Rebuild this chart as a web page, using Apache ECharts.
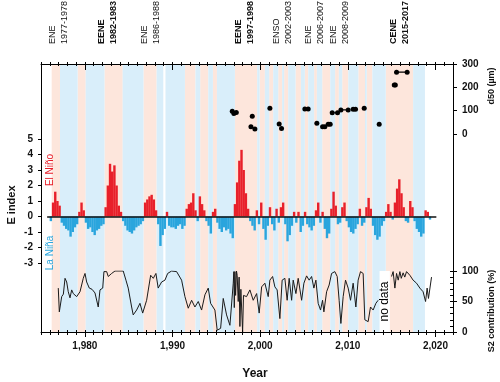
<!DOCTYPE html>
<html>
<head>
<meta charset="utf-8">
<script src="https://cdn.jsdelivr.net/npm/echarts@6/dist/echarts.min.js"></script>
<style>
  html, body { margin: 0; padding: 0; background: #fff; }
  #main { width: 500px; height: 382px; }
</style>
</head>
<body>
<div id="main"></div>
<script>
// El Niño (pink) and La Niña (blue) periods, decimal years
var ninoBands = [[1976.22,1977.17],[1979.18,1980.10],[1982.24,1984.32],[1986.69,1988.19],[1991.42,1992.62],
  [1993.16,1994.08],[1994.61,1995.07],[1997.12,1999.66],[1999.94,2000.54],[2001.03,2001.49],[2002.06,2002.51],
  [2002.74,2003.2],[2004.04,2004.65],[2005.1,2005.48],[2006.16,2006.47],[2007.08,2008.0],[2008.55,2008.98],
  [2009.36,2010.05],[2011.2,2011.96],[2012.16,2012.8],[2014.33,2017.45]];
var ninaBands = [[1977.17,1979.18],[1980.10,1982.24],[1984.32,1986.69],[1988.19,1988.95],[1989.2,1991.42],
  [1992.62,1993.16],[1994.08,1994.61],[1995.07,1997.12],[1999.66,1999.94],[2000.54,2001.03],[2001.49,2002.06],
  [2002.51,2002.74],[2003.2,2004.04],[2004.65,2005.1],[2005.48,2006.16],[2006.47,2007.08],[2008.0,2008.55],
  [2008.98,2009.36],[2010.05,2011.2],[2011.96,2012.16],[2012.8,2014.33],[2017.45,2018.8]];

// E index, quarterly from 1976
var eStart = 1976;
var eIndex = [
  -0.3, 0.9, 1.6, 1.0,    0.7, -0.4, -0.6, -0.8,   -0.9, -1.3, -1.0, -0.7,   -0.5, 0.3, 0.9, 0.4,
  -0.4, -0.8, -0.7, -1.0, -1.2, -0.9, -0.8, -0.6,   -0.5, 0.6, 2.0, 3.4,     2.9, 3.3, 2.0, 0.7,
  0.3, -0.3, -0.6, -0.9,  -1.0, -1.1, -0.9, -0.7,   -0.6, -0.5, -0.3, 0.9,    1.1, 1.3, 1.4, 1.1,
  0.4, -0.5, -1.9, -1.2,  -0.8, 0.3, -0.6, -0.7,    -0.7, -0.8, -0.6, -0.5,   -0.8, -0.6, 0.5, 0.8,
  0.9, 1.5, 0.4, -0.3,    1.3, 0.8, 0.4, -0.3,      -0.6, -1.1, 0.3, 0.5,     -0.4, -0.8, -1.0, -0.7,
  -0.9, -0.8, -1.1, -1.4, 0.8, 2.2, 3.6, 4.3,       3.0, 1.5, 0.5, -0.3,      -0.6, -0.9, 0.4, -0.5,
  0.9, -0.8, -1.5, -0.6,  0.6, -0.5, -0.9, 0.5,     -0.4, 0.6, 0.9, -0.5,     -1.6, -1.2, -0.6, 0.3,
  -0.4, 0.3, -1.0, -0.6,  0.3, -0.5, -0.7, -0.9,    -0.6, 0.4, 0.9, -0.4,     0.3, -0.8, -1.4, -1.1,
  0.5, 1.6, 0.7, -0.5,    -0.4, 0.6, 0.9, -0.3,     -0.7, -1.0, -1.1, -0.8,   -0.5, 0.5, -0.6, -0.4,
  0.6, 1.2, 0.5, -0.6,    -1.2, -1.5, -1.3, -0.6,   -0.3, 0.3, 0.8, 0.3,      -0.2, 0.9, 1.8, 2.4,
  1.5, 0.6, -0.3, -0.4,   1.0, 0.6, -0.3, -0.8,     -1.0, -1.3, -1.1, 0.4,    0.3, -0.2
];

// S2 contribution (%)
var s2Years = [1976.97,1977.09,1977.36,1977.55,1977.74,1977.93,1978.11,1978.31,1978.5,1978.68,1979.07,1979.45,
  1979.82,1980.02,1980.21,1980.51,1980.82,1981.16,1981.53,1981.73,1982.04,1982.18,1982.49,1982.67,1983.06,1983.44,
  1984.01,1984.38,1984.69,1984.95,1985.34,1985.52,1985.91,1986.29,1986.6,1987.05,1987.51,1987.81,1988.11,1988.37,
  1988.76,1989.14,1989.45,1989.9,1990.47,1991.04,1991.42,1991.8,1992.18,1992.56,1992.94,1993.32,1993.7,1994.08,
  1994.35,1994.84,1995.1,1995.49,1995.79,1996.17,1996.55,1996.93,1997.0,1997.05,1997.12,1997.2,1997.3,1997.38,
  1997.5,1997.6,1997.69,1997.8,1998.0,1998.1,1998.45,1998.83,1999.21,1999.6,1999.89,2000.17,2000.54,2000.92,
  2001.11,2001.42,2001.68,2001.94,2002.25,2002.51,2002.82,2003.08,2003.31,2003.59,2003.77,2004.08,2004.34,2004.73,
  2004.99,2005.3,2005.59,2005.87,2006.13,2006.36,2006.62,2006.89,2007.12,2007.27,2007.58,2007.87,2008.15,2008.52,
  2008.79,2009.01,2009.21,2009.47,2009.74,2010.04,2010.31,2010.61,2010.92,2011.18,2011.45,2011.75,2011.94,2012.32,
  2012.59,2012.89,2013.2,2013.46,2014.0,2014.99,2015.17,2015.37,2015.56,2015.75,2015.94,2016.1,2016.31,2016.5,
  2016.7,2017.08,2017.45,2017.84,2018.22,2018.59,2018.87,2019.05,2019.2,2019.36,2019.55];
var s2Pct = [72,33,58,62,88,82,66,56,69,63,58,66,
  88,96,82,72,70,64,41,69,72,99,99,91,96,100,
  100,100,85,72,41,28,36,47,31,52,93,88,96,72,
  82,85,96,100,99,85,58,39,52,41,50,36,61,72,
  47,36,3,6,55,28,11,80,99,40,99,60,100,93,
  50,90,9,70,0,60,58,69,52,63,31,74,80,58,
  85,91,74,69,22,85,88,52,88,52,85,63,88,52,
  80,92,85,91,72,85,47,36,52,33,66,77,96,99,
  91,52,14,58,85,72,52,80,41,85,99,96,20,17,
  41,36,47,52,null,91,99,72,96,85,99,88,97,90,
  99,93,85,80,72,66,50,72,55,52,90];

// d50 (µm): sampling periods (from, to) and value
var d50From = [1996.82,1997.0,1997.28,1998.95,1999.1,1999.4,2001.11,2002.17,2002.44,2005.1,2006.47,2007.12,
  2007.76,2008.22,2009.21,2010.61,2011.87,2013.58,2015.3,2015.56];
var d50To = [1996.82,1997.0,1997.28,1998.95,1999.1,1999.4,2001.11,2002.17,2002.44,2005.48,2006.47,2007.38,
  2007.99,2008.83,2010.04,2010.88,2011.87,2013.58,2015.42,2016.77];
var d50Val = [97,88,92,31,76,21,110,43,24,107,46,31,42,91,103,106,110,42,210,265];

var decades = [1980, 1990, 2000, 2010, 2020];
var noData = [2013.62, 2014.8];

var topLabels = [
  ['ENE', '1977-1978', 58.5, false],
  ['EENE', '1982-1983', 108, true],
  ['ENE', '1986-1988', 151, false],
  ['EENE', '1997-1998', 244.5, true],
  ['ENSO', '2002-2003', 283, false],
  ['ENE', '2006-2007', 314.5, false],
  ['ENE', '2008-2009', 340, false],
  ['CENE', '2015-2017', 400, true]
];

var FONT = 'Liberation Sans, Arial, sans-serif';
var INK = '#111';
var chart = echarts.init(document.getElementById('main'));

var box = { left: 41, right: 47, top: 64, bottom: 50 };
var grids = [
  box, box, box, box,
  { left: 41, right: 47, top: 64, height: 70 },   // d50
  { left: 41, right: 47, top: 139, height: 124 }, // E index
  { left: 41, right: 47, top: 271, height: 61 },  // S2
  { left: 41, right: 47, top: 271, height: 61 }   // S2 minor ticks
];

function xAx(grid, pos, tick, label, line) {
  return {
    type: 'value', gridIndex: grid, position: pos, min: 1975, max: 2022, interval: 1, z: 10,
    axisLine: { show: !!line, onZero: false, lineStyle: { color: '#000', width: 1 } },
    axisTick: tick ? Object.assign({ show: true, lineStyle: { color: '#000', width: 1 } }, tick) : { show: false },
    axisLabel: label || { show: false },
    splitLine: { show: false }
  };
}
var hiddenX = function (g) { return { type: 'value', gridIndex: g, min: 1975, max: 2022, show: false }; };

var boldLab = { color: INK, fontSize: 10, fontWeight: 'bold', fontFamily: FONT };

var xAxes = [
  xAx(0, 'bottom', { length: 5, customValues: decades }, Object.assign({ customValues: decades, margin: 9 }, boldLab), true),
  xAx(0, 'top', null, null, true),
  xAx(1, 'bottom', { length: 3 }),
  xAx(1, 'top', { length: 2 }),
  xAx(2, 'bottom', { length: 2, inside: true }),
  xAx(2, 'top', { length: 2, inside: true }),
  xAx(3, 'top', { length: 6, inside: true, customValues: decades }),
  hiddenX(4), hiddenX(5), hiddenX(6), hiddenX(7)
];

function yLine(pos) {
  return { type: 'value', gridIndex: 0, position: pos, min: 0, max: 1, z: 10,
    axisLine: { show: true, onZero: false, lineStyle: { color: '#000' } },
    axisTick: { show: false }, axisLabel: { show: false }, splitLine: { show: false } };
}

var yAxes = [
  yLine('left'),
  yLine('right'),
  { type: 'value', gridIndex: 1, show: false },
  { type: 'value', gridIndex: 2, show: false },
  { type: 'value', gridIndex: 3, show: false },
  { type: 'value', gridIndex: 4, position: 'right', min: 0, max: 300, interval: 100, z: 10,
    axisLine: { show: false, onZero: false }, axisTick: { show: true, inside: false, length: 4, lineStyle: { color: '#000' } },
    axisLabel: Object.assign({ margin: 9 }, boldLab), splitLine: { show: false } },
  { type: 'value', gridIndex: 5, position: 'left', min: -3, max: 5, interval: 1, z: 10,
    axisLine: { show: false, onZero: false }, axisTick: { show: true, inside: false, length: 3, lineStyle: { color: '#000' } },
    axisLabel: Object.assign({ margin: 8 }, boldLab), splitLine: { show: false } },
  { type: 'value', gridIndex: 6, position: 'right', min: 0, max: 100, interval: 50, z: 10,
    axisLine: { show: false, onZero: false }, axisTick: { show: true, inside: false, length: 4, lineStyle: { color: '#000' } },
    axisLabel: Object.assign({ margin: 9 }, boldLab), splitLine: { show: false } },
  { type: 'value', gridIndex: 7, position: 'right', min: 0, max: 100, interval: 10, z: 10,
    axisLine: { show: false, onZero: false }, axisTick: { show: true, inside: true, length: 3, lineStyle: { color: '#000' } },
    axisLabel: { show: false }, splitLine: { show: false } }
];

// background bands
var bandAreas = [];
ninoBands.forEach(function (b) {
  bandAreas.push([{ xAxis: b[0], itemStyle: { color: '#fde6dc' } }, { xAxis: b[1] }]);
});
ninaBands.forEach(function (b) {
  bandAreas.push([{ xAxis: b[0], itemStyle: { color: '#d9eefa' } }, { xAxis: b[1] }]);
});

// E index bars split by sign
var ePos = [], eNeg = [];
eIndex.forEach(function (v, i) {
  var x = eStart + (i + 0.5) / 4;
  if (v > 0) ePos.push([x, v]);
  else if (v < 0) eNeg.push([x, v]);
});

var s2Data = s2Years.map(function (y, i) { return [y, s2Pct[i]]; });

var series = [
  { type: 'line', xAxisIndex: 0, yAxisIndex: 0, data: [[1975, 0]], symbol: 'none', lineStyle: { opacity: 0 },
    silent: true, markArea: { silent: true, itemStyle: { borderWidth: 0 }, data: bandAreas } },
  { type: 'bar', xAxisIndex: 8, yAxisIndex: 6, data: ePos, barWidth: 2.4, barGap: '-100%',
    itemStyle: { color: '#e8202a' }, silent: true,
    markLine: { silent: true, symbol: ['none', 'none'], label: { show: false },
      lineStyle: { color: '#111', width: 1.5, type: 'solid' },
      data: [[{ coord: [1975.7, 0] }, { coord: [2020.1, 0] }]] } },
  { type: 'bar', xAxisIndex: 8, yAxisIndex: 6, data: eNeg, barWidth: 2.4, barGap: '-100%',
    itemStyle: { color: '#2aa5dd' }, silent: true },
  { type: 'line', xAxisIndex: 9, yAxisIndex: 7, data: s2Data, symbol: 'none', silent: true,
    lineStyle: { color: '#1a1a1a', width: 1 },
    markArea: { silent: true, itemStyle: { color: '#fff' },
      label: { show: true, position: 'inside', rotate: 90, formatter: 'no data', color: '#000',
        fontSize: 12, fontFamily: FONT },
      data: [[{ coord: [noData[0], 0] }, { coord: [noData[1], 100] }]] } }
];

d50From.forEach(function (f, i) {
  var pts = [[f, d50Val[i]]];
  if (d50To[i] !== f) pts.push([d50To[i], d50Val[i]]);
  series.push({ type: 'line', xAxisIndex: 7, yAxisIndex: 5, data: pts, symbol: 'circle', symbolSize: 5,
    showSymbol: true, silent: true, itemStyle: { color: '#000' }, lineStyle: { color: '#000', width: 1.2 } });
});

// rotated texts
function vtext(x, y, text, opt) {
  return {
    type: 'text', x: x, y: y, rotation: Math.PI / 2, silent: true, z: 20,
    style: Object.assign({ text: text, fill: INK, font: '10px ' + FONT,
      align: 'center', verticalAlign: 'middle', textAlign: 'center', textVerticalAlign: 'middle' }, opt || {})
  };
}
var graphics = [];
topLabels.forEach(function (t) {
  graphics.push(vtext(t[2], 44, t[0] + '\n' + t[1], {
    font: (t[3] ? 'bold ' : '') + '9px ' + FONT, lineHeight: 12,
    align: 'left', textAlign: 'left'
  }));
});
graphics.push(vtext(12, 205, 'E index', { font: 'bold 11px ' + FONT }));
graphics.push(vtext(50, 170, 'El Niño', { fill: '#e8202a', font: '10px ' + FONT }));
graphics.push(vtext(50, 253, 'La Niña', { fill: '#2aa5dd', font: '10px ' + FONT }));
graphics.push(vtext(492, 86, 'd50 (µm)', { font: 'bold 9px ' + FONT }));
graphics.push(vtext(492, 311, 'S2 contribution (%)', { font: 'bold 9px ' + FONT }));
graphics.push({ type: 'text', x: 255, y: 374, silent: true, z: 20,
  style: { text: 'Year', fill: INK, font: 'bold 12px ' + FONT, align: 'center', verticalAlign: 'middle',
    textAlign: 'center', textVerticalAlign: 'middle' } });

chart.setOption({
  animation: false,
  backgroundColor: '#fff',
  grid: grids,
  xAxis: xAxes,
  yAxis: yAxes,
  series: series,
  graphic: graphics
});
</script>
</body>
</html>
